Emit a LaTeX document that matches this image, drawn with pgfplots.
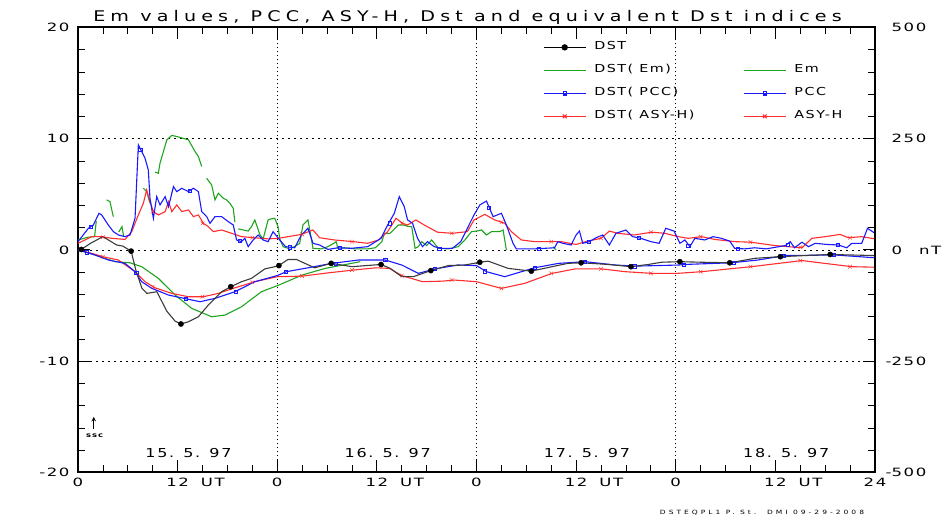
\documentclass[border=0pt]{standalone}
\usepackage{pgfplots}
\pgfplotsset{compat=1.18}
\usepackage{fontspec}
\setmainfont{DejaVu Sans}[FakeStretch=1.3,LetterSpace=14]
\newfontfamily\tickfont{DejaVu Sans}[FakeStretch=1.45,LetterSpace=14]
\newfontfamily\titlefont{DejaVu Sans}[FakeStretch=1.3,LetterSpace=35]
\newfontfamily\tinyfont{DejaVu Sans}[FakeStretch=1.3,LetterSpace=52]
\definecolor{dstblack}{RGB}{60,60,60}
\definecolor{emgreen}{RGB}{30,165,30}
\definecolor{pccblue}{RGB}{25,25,255}
\definecolor{asyred}{RGB}{255,45,45}
\newcommand{\lt}[1]{\hspace{8pt}\makebox[149pt][l]{#1}}
\pgfplotsset{dl/.style={line width=1.1pt, forget plot}}
\begin{document}
\begin{tikzpicture}
\path[use as bounding box] (-78pt,-48.5pt) rectangle (867pt,472.5pt);
\begin{axis}[
 scale only axis, width=797pt, height=445pt, at={(0pt,0pt)}, anchor=south west,
 xmin=0, xmax=96, ymin=-20, ymax=20,
 xtick={0,12,...,96},
 xticklabels={0,12\rlap{\hspace{12pt}UT},0,12\rlap{\hspace{12pt}UT},0,12\rlap{\hspace{12pt}UT},0,12\rlap{\hspace{12pt}UT},24},
 minor x tick num=3,
 ytick={-20,-10,0,10,20},
 yticklabels={-20,-10,0,10,20},
 minor y tick num=4,
 ytick pos=left, xticklabel pos=bottom,
 tick align=inside,
 major tick length=12pt, minor tick length=7pt,
 major tick style={black, line width=1pt},
 minor tick style={black, line width=0.8pt},
 axis line style={line width=2pt},
 ymajorgrids, major grid style={black, line width=0.7pt, dash pattern=on 2pt off 4pt},
 extra x ticks={24,48,72}, extra x tick labels={},
 extra x tick style={grid=major, major grid style={black, line width=0.7pt, dash pattern=on 1pt off 3pt}},
 tick label style={font=\tickfont\fontsize{11.4}{12}\selectfont},
 yticklabel style={xshift=-5pt},
 xticklabel style={yshift=-2pt},
 unbounded coords=jump,
 legend columns=2,
 legend style={at={(0.5834,0.967)}, anchor=north west, draw=none, fill=none, inner sep=0pt,
   nodes={inner sep=0pt, text height=7.5pt, text depth=2.5pt}, cells={anchor=west},
   row sep=13pt, column sep=0pt, font=\fontsize{11}{12}\selectfont},
 legend image code/.code={\draw[mark repeat=2,mark phase=2,#1] plot coordinates {(0pt,0pt) (21pt,0pt) (42pt,0pt)};},
]
\addlegendimage{black, line width=1.1pt, mark=*, mark size=2.6pt}
\addlegendentry{\lt{DST}}
\addlegendimage{empty legend}
\addlegendentry{}
\addlegendimage{emgreen, line width=1.1pt}
\addlegendentry{\lt{DST( Em)}}
\addlegendimage{emgreen, line width=1.1pt}
\addlegendentry{\lt{Em}}
\addlegendimage{pccblue, line width=1.1pt, mark=square, mark size=1.6pt}
\addlegendentry{\lt{DST( PCC)}}
\addlegendimage{pccblue, line width=1.1pt, mark=square, mark size=1.6pt}
\addlegendentry{\lt{PCC}}
\addlegendimage{asyred, line width=1.1pt, mark=x, mark size=2.6pt}
\addlegendentry{\lt{DST( ASY-H)}}
\addlegendimage{asyred, line width=1.1pt, mark=x, mark size=2.6pt}
\addlegendentry{\lt{ASY-H}}

% Em (positive, with gaps)
\addplot[emgreen, dl] coordinates {
(0,0.9) (1.2,1.15) (2.0,1.2) (2.2,2.6) (2.3,nan)
(3.45,4.5) (3.85,4.35) (4.25,3.0) (4.4,nan)
(4.9,1.6) (5.3,2.1) (5.5,1.2) (5.6,nan)
(7.87,5.55) (8.27,5.25) (8.67,4.2) (8.8,nan)
(9.27,7.0) (9.68,6.9) (9.88,7.8) (10.7,9.9) (11.3,10.3) (11.9,10.2) (13.3,9.9) (14.1,8.85) (14.5,8.4) (14.9,7.5) (15.1,nan)
(15.5,6.45) (16.1,5.85) (16.5,4.5) (16.9,5.1) (17.5,4.65) (17.9,4.5) (18.3,4.2) (18.7,3.75) (18.9,2.5) (19.1,nan)
(19.3,1.9) (19.9,1.8) (20.5,1.7) (20.9,2.1) (21.3,2.7) (21.9,1.4) (22.3,1.0) (22.9,2.7) (23.3,2.8) (23.7,2.85) (24.1,2.1)
(24.3,1.0) (24.7,0.3) (25.3,0.15) (26.1,0.3) (26.7,0.6) (27.1,2.25) (27.7,2.7) (28.1,1.05) (28.3,0.15) (29.3,0.1) (30.1,0.3)
(30.8,0.6) (31.1,0.75) (31.3,0.15) (32.1,0.2) (33.4,0.1) (34.9,0.1) (35.8,0.2) (36.6,0.75) (36.9,1.5) (37.6,1.5) (38.6,2.25)
(39.2,2.25) (39.8,2.1) (40.2,2.1) (40.6,0.15) (41.0,0.3) (41.4,0.75) (42.0,0.4) (42.6,0.9) (43.4,0.15) (44.6,0.1) (45.8,0.3)
(46.6,0.9) (47.4,1.65) (48.0,1.7) (48.6,1.8) (49.2,1.35) (49.8,1.65) (50.8,1.65) (51.2,1.8) (51.6,0.0) (51.8,nan)
(57.2,0.3) (57.6,0.0)
};
% DST(Em)
\addplot[emgreen, dl] coordinates {
(0,0) (2.05,-0.45) (4.46,-1.05) (6.27,-1.15) (7.67,-1.5) (9.68,-2.55) (11.7,-4.05) (13.7,-5.25) (16.1,-6.0)
(17.7,-5.85) (19.7,-5.1) (22.1,-3.75) (24.2,-3.15) (27,-2.25) (29.8,-1.65) (34.0,-1.05)
};
% ASY-H
\addplot[asyred, dl] coordinates {
(0,0.6) (1.65,1.2) (2.85,1.2) (4.06,1.05) (5.66,0.95) (6.47,1.65) (7.27,3.15) (7.87,4.2) (8.27,5.4) (8.67,4.35)
(9.08,3.45) (9.68,3.15) (10.5,3.45) (10.9,4.35) (11.3,3.45) (11.9,4.05) (12.5,3.45) (13.3,3.6) (13.9,3.0) (14.5,3.15)
(15.1,2.4) (15.7,2.1) (16.3,1.65) (17.3,1.8) (18.5,1.5) (19.7,1.2) (21.3,1.1) (22.9,1.0) (24.2,1.05) (25.3,1.2)
(26.9,1.4) (28.3,1.8) (29.1,1.1) (30.9,0.9) (33.2,0.75) (34.9,0.6) (36.2,0.9) (37.3,1.65) (38.3,2.85) (39.1,2.4)
(39.7,2.25) (40.7,2.7) (41.7,2.25) (43.3,1.6) (45.1,1.5) (46.9,1.65) (47.7,2.7) (49.0,3.2) (50.2,2.7) (51.4,2.4)
(52.2,1.65) (53.4,0.9) (55.0,0.75) (58.2,0.75) (60.0,0.5) (61.4,0.8) (63.0,1.05) (64.0,1.7) (65.0,1.5) (67.0,1.35)
(69.1,1.6) (70.7,1.5) (72.3,1.2) (73.5,1.05) (75.1,1.2) (76.7,0.95) (79.1,0.75) (81.1,0.7) (83.9,0.4) (87.2,0.2)
(88.4,1.05) (90.0,1.2) (91.8,1.4) (92.8,1.1) (94.4,1.2) (96,1.0)
};
\addplot[only marks, mark=x, mark size=2.6pt, asyred, forget plot] coordinates {
(3,1.15) (9,3.45) (15,2.4) (21,1.1) (27,1.4) (33,0.75) (39,2.4) (45,1.5) (51,2.5) (57,0.75) (63,1.05) (69,1.6) (75,1.2) (81,0.7) (87,0.25) (93,1.1)
};
% DST(ASY-H)
\addplot[asyred, dl] coordinates {
(0,0) (1.65,-0.3) (3,-0.6) (4.86,-0.9) (6.87,-1.95) (8.07,-2.85) (9.28,-3.4) (11.3,-3.9) (13.3,-4.2) (15.1,-4.2)
(16.9,-3.9) (18.9,-3.4) (21.3,-2.85) (24.0,-2.4) (27.0,-2.35) (30.2,-2.05) (33.2,-1.8) (35.9,-1.6) (37.5,-1.65)
(39.0,-2.3) (41.5,-2.85) (43.9,-2.8) (45.3,-2.7) (48.0,-2.85) (51.0,-3.45) (53.8,-3.0) (57.1,-2.1) (59.9,-1.7)
(63.1,-1.7) (65.9,-1.95) (69.1,-2.1) (72.2,-2.1) (75.1,-1.95) (81.1,-1.5) (87.2,-0.95) (93.2,-1.5) (96,-1.55)
};
\addplot[only marks, mark=x, mark size=2.6pt, asyred, forget plot] coordinates {
(3,-0.6) (9,-3.3) (15,-4.2) (21,-2.9) (27,-2.35) (33,-1.8) (39,-2.3) (45,-2.7) (51,-3.45) (57,-2.1) (63,-1.7) (69,-2.1) (75,-1.95) (81,-1.5) (87,-0.95) (93,-1.5)
};
% PCC
\addplot[pccblue, dl] coordinates {
(0,0.75) (1.25,1.95) (1.85,2.25) (2.53,3.3) (2.85,3.15) (3.65,2.25) (4.26,1.65) (4.86,1.35) (5.66,1.2) (6.27,1.35)
(6.87,2.85) (7.27,9.45) (7.67,8.85) (8.07,8.25) (8.47,7.2) (8.67,4.65) (9.08,2.85) (9.48,4.8) (9.88,4.05) (10.5,4.8)
(10.9,3.9) (11.5,5.7) (11.9,5.25) (12.5,5.55) (13.3,5.25) (13.9,5.55) (14.5,5.25) (14.9,3.45) (15.5,3.0) (15.9,2.4)
(16.5,3.0) (17.3,3.0) (18.1,2.55) (18.7,2.25) (19.1,0.9) (19.7,0.75) (20.1,1.05) (20.5,0.3) (21.1,0.9) (21.7,1.35)
(22.3,0.9) (22.9,0.75) (23.5,1.65) (24.3,0.9) (25.0,0.3) (26.1,0.2) (26.9,1.35) (27.7,1.95) (28.3,0.6) (29.1,0.45)
(30.1,0.05) (31.3,0.2) (32.9,0.15) (34.9,0.3) (36.5,1.05) (37.3,2.25) (38.1,3.3) (38.7,4.8) (39.3,3.9) (39.7,2.7)
(40.3,2.4) (40.9,1.05) (41.5,0.3) (42.1,0.75) (42.9,0.3) (43.7,0.15) (45.1,0.15) (46.1,0.75) (46.9,1.95) (47.7,3.15)
(48.4,4.05) (49.2,4.4) (50.0,3.0) (51.0,3.3) (51.6,2.25) (52.4,0.6) (52.8,0.1) (55.0,0.1) (57.4,0.2) (57.8,0.75)
(58.4,0.6) (59.4,0.45) (60.0,1.35) (60.4,1.7) (60.8,0.6) (61.6,0.75) (62.4,1.1) (63.2,1.35) (64.0,0.45) (64.8,1.5)
(66.0,1.8) (66.8,1.2) (67.8,1.05) (69.0,0.75) (70.0,0.6) (70.8,1.95) (71.8,1.7) (72.5,0.6) (73.1,0.9) (73.7,0.3)
(74.3,1.05) (75.5,0.9) (76.5,1.2) (77.5,1.05) (78.5,0.8) (79.1,0.15) (80.3,0.1) (81.5,0.2) (82.9,0.1) (85.2,0.4)
(85.8,0.75) (86.3,0.2) (87.2,0.7) (88.0,0.3) (88.8,0.6) (90.2,0.5) (91.6,0.45) (92.6,0.2) (93.2,0.6) (94.4,0.6)
(95.1,1.95) (95.6,1.7) (96,1.5)
};
\addplot[only marks, mark=square, mark size=1.6pt, pccblue, forget plot] coordinates {
(1.5,2.1) (7.5,9.0) (13.5,5.35) (19.5,0.8) (25.5,0.25) (31.5,0.2) (37.5,2.4) (43.5,0.15) (49.5,3.8) (55.5,0.1) (61.5,0.75) (67.5,1.1) (73.5,0.4) (79.5,0.12) (85.5,0.5) (91.5,0.45)
};
% DST(PCC)
\addplot[pccblue, dl] coordinates {
(0,0) (1,-0.2) (2.05,-0.45) (3.65,-0.9) (5.66,-1.2) (6.87,-1.95) (7.67,-2.85) (8.9,-3.45) (10.9,-4.05) (13.1,-4.4)
(14.7,-4.65) (16.5,-4.35) (18.9,-3.75) (21.3,-2.85) (24.0,-2.3) (25.1,-1.95) (27.7,-1.6) (30.6,-1.2) (33.8,-0.9)
(37.0,-0.9) (39.0,-1.35) (41.0,-2.1) (43.0,-1.7) (45.8,-1.35) (48.0,-1.4) (49.2,-1.95) (51.4,-2.4) (55.0,-1.6)
(57.9,-1.2) (61.1,-1.05) (64.7,-1.35) (67.1,-1.45) (72.4,-1.35) (73.1,-1.3) (78.7,-1.15) (81.9,-0.9) (85.2,-0.5)
(91.2,-0.45) (96,-0.7)
};
\addplot[only marks, mark=square, mark size=1.6pt, pccblue, forget plot] coordinates {
(1,-0.2) (7,-2.05) (13,-4.4) (19,-3.75) (25,-1.95) (31,-1.2) (37,-0.9) (43,-1.7) (49,-1.9) (55,-1.6) (61,-1.05) (67,-1.45) (73,-1.3) (79,-1.15) (85,-0.5) (91,-0.45)
};
% DST
\addplot[dstblack, dl] coordinates {
(0.4,0.05) (1.5,0.6) (3.0,1.2) (4.66,0.45) (5.4,0.35) (6.4,-0.1) (7.0,-1.9) (7.7,-3.45) (8.3,-3.9) (9.5,-3.75)
(10.7,-5.5) (11.7,-6.4) (12.4,-6.65) (13.3,-6.45) (14.5,-6.0) (15.7,-4.95) (17.3,-3.75) (18.4,-3.3) (19.7,-2.85)
(20.9,-2.55) (22.5,-1.7) (23.7,-1.5) (24.2,-1.4) (25.3,-0.85) (26.3,-0.85) (28.5,-1.6) (30.5,-1.2) (33.0,-1.5)
(36.5,-1.3) (37.6,-1.65) (39.0,-2.4) (40.4,-2.4) (42.5,-1.85) (44.6,-1.4) (46.6,-1.35) (48.4,-1.1) (49.4,-1.0)
(51.8,-1.65) (54.6,-1.9) (57.1,-1.5) (59.0,-1.2) (60.6,-1.15) (63.9,-1.3) (66.6,-1.5) (68.7,-1.3) (70.3,-1.1)
(72.5,-1.05) (75.1,-1.1) (78.5,-1.15) (81.5,-0.75) (84.6,-0.6) (87.6,-0.5) (90.6,-0.4) (93.2,-0.45) (96,-0.5)
};
\addplot[only marks, mark=*, mark size=2.6pt, black, forget plot] coordinates {
(0.4,0.05) (6.4,-0.1) (12.4,-6.65) (18.4,-3.3) (24.2,-1.4) (30.5,-1.2) (36.5,-1.3) (42.5,-1.85) (48.4,-1.1) (54.6,-1.9) (60.6,-1.15) (66.6,-1.5) (72.5,-1.05) (78.5,-1.15) (84.6,-0.6) (90.6,-0.4)
};
% date labels and ssc
\node[font=\fontsize{12.3}{13}\selectfont] at (axis cs:13.3,-18.25) {15. 5. 97};
\node[font=\fontsize{12.3}{13}\selectfont] at (axis cs:37.3,-18.25) {16. 5. 97};
\node[font=\fontsize{12.3}{13}\selectfont] at (axis cs:61.3,-18.25) {17. 5. 97};
\node[font=\fontsize{12.3}{13}\selectfont] at (axis cs:85.3,-18.25) {18. 5. 97};
\draw[-stealth, line width=1pt] (axis cs:1.9,-16.1) -- (axis cs:1.9,-15.0);
\node[font=\bfseries\fontsize{6.5}{7}\selectfont] at (axis cs:2.0,-16.65) {ssc};
\end{axis}
\begin{axis}[
 scale only axis, width=797pt, height=445pt, at={(0pt,0pt)}, anchor=south west,
 xmin=0, xmax=96, ymin=-500, ymax=500,
 hide x axis, axis y line*=right,
 ytick={-500,-250,0,250,500},
 yticklabels={\llap{-}500,\llap{-}250,0\hspace{17pt}nT,250,500},
 yticklabel style={anchor=west, xshift=13pt, font=\tickfont\fontsize{11.4}{12}\selectfont},
 minor y tick num=4,
 tick align=inside,
 major tick length=12pt, minor tick length=7pt,
 major tick style={black, line width=1pt},
 minor tick style={black, line width=0.8pt},
 axis line style={line width=2pt},
]
\end{axis}
\node[font=\titlefont\fontsize{14.7}{16}\selectfont, anchor=base] at (389.5pt,450.8pt) {Em values, PCC, ASY-H, Dst and equivalent Dst indices};
\node[font=\tinyfont\fontsize{5.8}{6}\selectfont] at (684pt,-40.5pt) {DSTEQPL1 P. St.\ \ DMI 09-29-2008};
\end{tikzpicture}
\end{document}
